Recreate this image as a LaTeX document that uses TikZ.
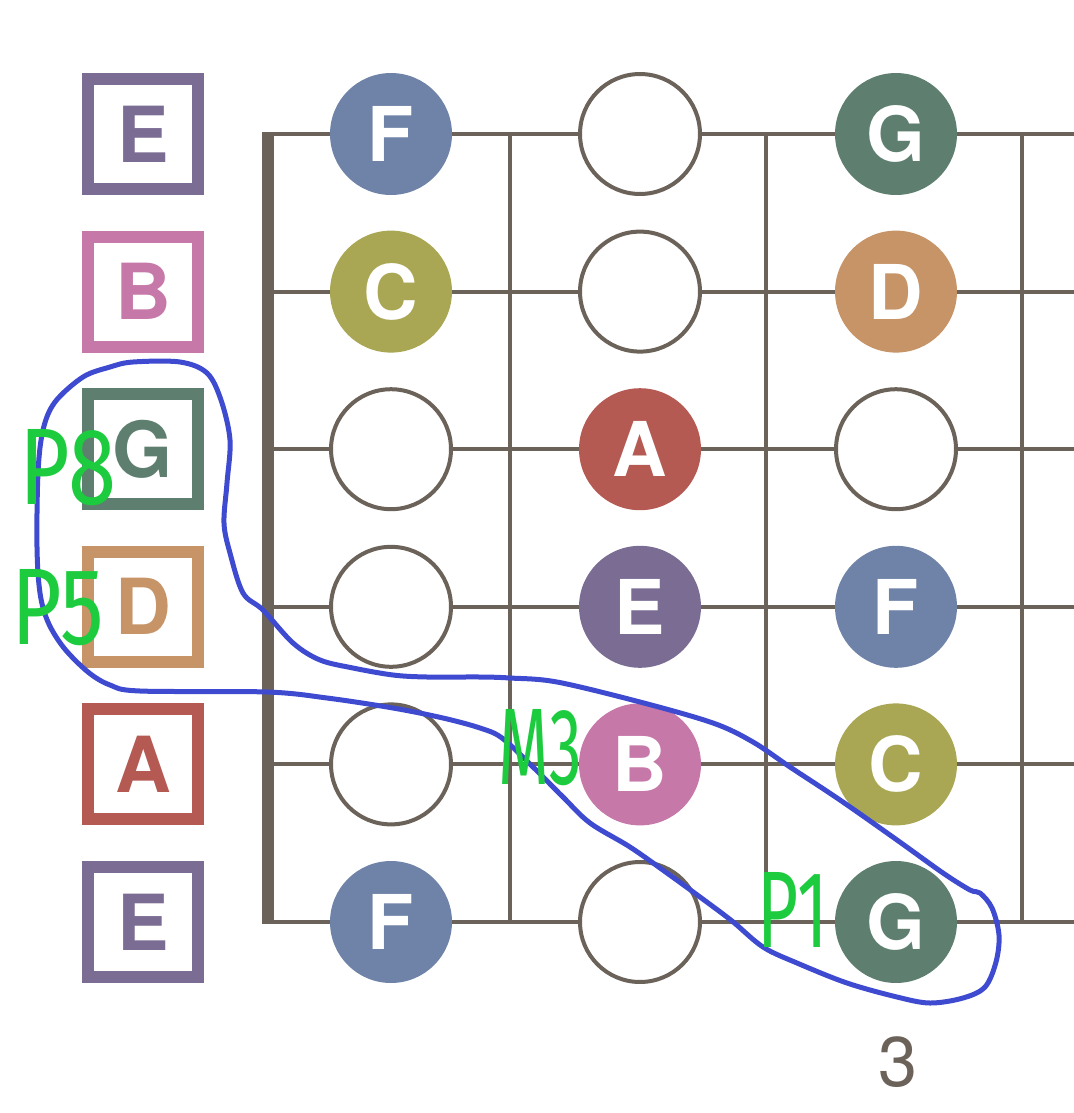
\documentclass[tikz,border=0pt]{standalone}
\usepackage{fontspec}
\setsansfont{TeX Gyre Heros}
\newfontfamily\handfont{Fira Sans}
\definecolor{ink}{HTML}{6B6259}
\definecolor{noteE}{HTML}{7A6C93}
\definecolor{noteB}{HTML}{C678A9}
\definecolor{noteG}{HTML}{5E7F6F}
\definecolor{noteD}{HTML}{C79468}
\definecolor{noteA}{HTML}{B55953}
\definecolor{noteF}{HTML}{6F82A7}
\definecolor{noteC}{HTML}{A9A754}
\definecolor{penblue}{HTML}{3E4BD0}
\definecolor{pengreen}{HTML}{1DCB3F}
\usetikzlibrary{positioning}
\tikzset{
  fretline/.style={draw=ink,line width=0.08cm},
  nutline/.style={draw=ink,line width=0.24cm},
  dot/.style={circle,minimum size=2.44cm,inner sep=0pt,text=white,
    font=\sffamily\bfseries\fontsize{43}{43}\selectfont},
  opendot/.style={dot,draw=ink,line width=0.08cm,fill=white,minimum size=2.4cm},
  lbl/.style={rectangle,line width=0.24cm,minimum size=2.2cm,inner sep=0pt,fill=white,
    font=\sffamily\bfseries\fontsize{44}{44}\selectfont},
  pen/.style={draw=penblue,line width=0.1cm,line join=round,line cap=round},
  hand/.style={text=pengreen,inner sep=0pt,transform shape,
    font=\handfont\fontsize{62}{62}\selectfont},
}
\begin{document}
\begin{tikzpicture}[x=0.02cm,y=-0.02cm]
\useasboundingbox (0,0) rectangle (1074,1113);
% strings, frets, nut
\foreach \s in {1,...,6}
  \draw[fretline] (268,{134+157.6*(\s-1)}) -- (1074,{134+157.6*(\s-1)});
\foreach \x in {510,766,1022}
  \draw[fretline] (\x,134) -- (\x,922);
\draw[nutline] (268,132) -- (268,924);
% open strings
\foreach \s/\n/\c in {1/E/noteE,2/B/noteB,3/G/noteG,4/D/noteD,5/A/noteA,6/E/noteE}
  \node[lbl,draw=\c,text=\c] (l\s) at (143,{134+157.6*(\s-1)}) {\n};
% empty positions
\foreach \s/\x/\f in {1/640/2,2/640/2,3/391/1,3/896/3,4/391/1,5/391/1,6/640/2}
  \node[opendot] (o\s\f) at (\x,{134+157.6*(\s-1)}) {};
% notes
\foreach \s/\x/\f/\n/\c in {1/391/1/F/noteF,1/896/3/G/noteG,2/391/1/C/noteC,2/896/3/D/noteD,
    3/640/2/A/noteA,4/640/2/E/noteE,4/896/3/F/noteF,5/640/2/B/noteB,5/896/3/C/noteC,
    6/391/1/F/noteF,6/896/3/G/noteG}
  \node[dot,fill=\c] (n\s\f) at (\x,{134+157.6*(\s-1)}) {\n};
\node[font=\sffamily\fontsize{40}{40}\selectfont,text=ink] (fret3) at (898,1062) {3};
% pen loop
\draw[pen] plot[smooth cycle,tension=0.55] coordinates {
  (980,893) (992,908) (999,935) (996,962) (985,987) (963,998) (930,1003) (897,997)
  (847,983) (797,963) (763,947) (732,921) (700,897) (667,873) (630,847) (590,823)
  (563,797) (533,767) (502,738) (480,728) (443,718) (393,708) (327,698) (267,692)
  (140,691) (110,685) (88,672) (64,648) (48,622) (40,593) (37,547) (38,473)
  (43,430) (55,402) (83,377) (110,367) (133,362) (180,362) (207,373) (221,400)
  (230,440) (227,483) (224,523) (230,553) (243,593) (263,610) (293,643) (320,660)
  (353,668) (393,675) (427,677) (480,677) (510,678) (557,682) (640,702) (713,723)
  (753,742) (790,767) (840,800) (897,840) (943,873) (970,890)};
% marks
\node[hand,xscale=0.8] (p8) at (68,468) {P8};
\node[hand,xscale=0.8] (p5) at (58,608) {P5};
\node[hand,xscale=0.6] (m3) at (540,748) {M3};
\node[hand,xscale=0.65] (p1) at (793,910) {P1};
\end{tikzpicture}
\end{document}
